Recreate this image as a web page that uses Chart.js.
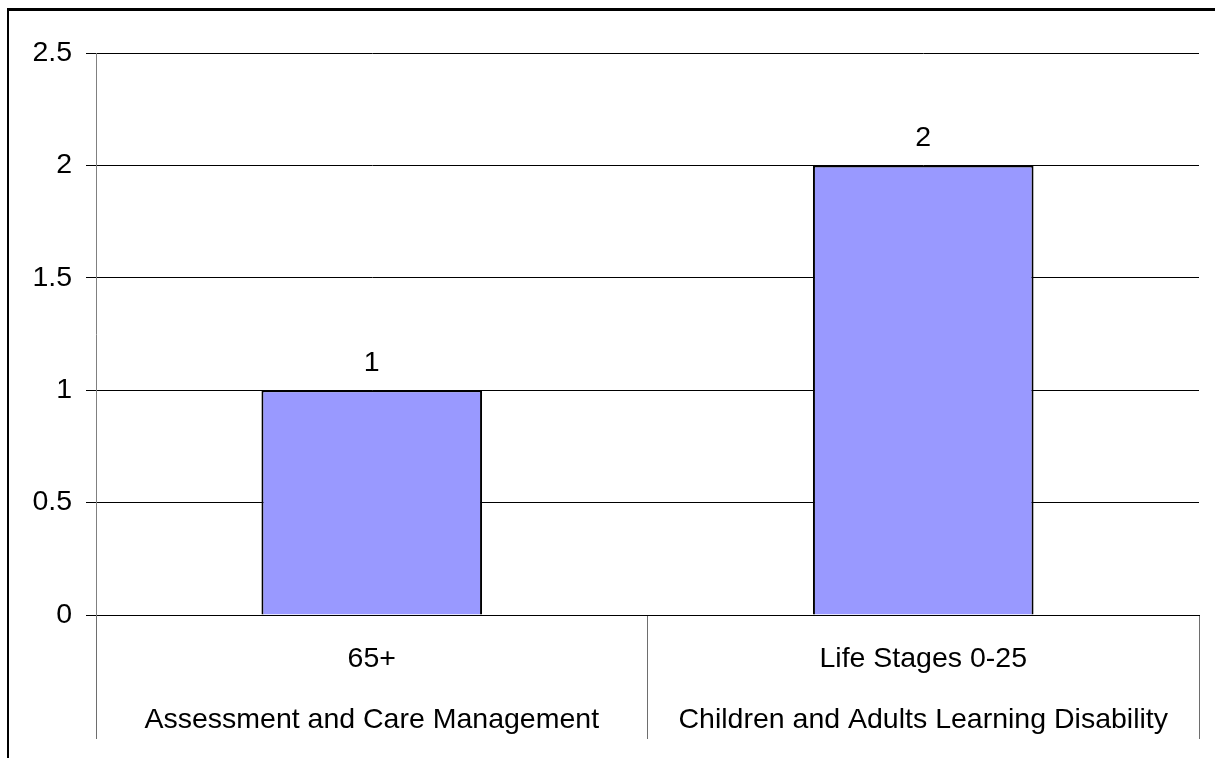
<!DOCTYPE html>
<html>
<head>
<meta charset="utf-8">
<script src="https://cdn.jsdelivr.net/npm/chart.js@4/dist/chart.umd.min.js"></script>
<style>
	html, body { margin: 0; padding: 0; background: #fff; overflow: hidden; }
	#wrap { position: relative; width: 1215px; height: 758px; }
	#frame { position: absolute; left: 7px; top: 8px; width: 1230px; height: 770px; border-left: 2px solid #000; border-top: 3px solid #000; pointer-events: none; }
</style>
</head>
<body>
<div id="wrap">
	<canvas id="chart" width="1215" height="758"></canvas>
	<div id="frame"></div>
</div>
<script>
const categories = [
	["65+", "Assessment and Care Management"],
	["Life Stages 0-25", "Children and Adults Learning Disability"],
]
const values = [1, 2]
const yTicks = { min: 0, max: 2.5, step: 0.5 }

const font = { family: "'Liberation Sans', Arial, sans-serif", size: 28.5 }

// value labels above each bar
const barLabels = {
	id: "barLabels",
	afterDatasetsDraw(chart) {
		const ctx = chart.ctx
		const meta = chart.getDatasetMeta(0)
		ctx.save()
		ctx.font = font.size + "px " + font.family
		ctx.fillStyle = "#000"
		ctx.textAlign = "center"
		ctx.textBaseline = "alphabetic"
		meta.data.forEach((bar, i) => {
			ctx.fillText(String(values[i]), bar.x, bar.y - 19)
		})
		ctx.restore()
	},
}

new Chart(document.getElementById("chart"), {
	type: "bar",
	data: {
		labels: categories,
		datasets: [{
			data: values,
			backgroundColor: "#9999FF",
			borderColor: "#000",
			borderWidth: 2,
			barPercentage: 0.4,
			categoryPercentage: 1,
		}],
	},
	options: {
		responsive: false,
		animation: false,
		layout: { padding: { top: 53, right: 16, bottom: 0, left: 0 } },
		plugins: { legend: { display: false }, tooltip: { enabled: false } },
		scales: {
			x: {
				offset: true,
				grid: { offset: true, drawOnChartArea: false, drawTicks: true, tickLength: 124, color: "#6e6e6e" },
				border: { display: true, color: "#000" },
				ticks: {
					color: "#000",
					font: { ...font, lineHeight: 2.14 },
					padding: -110.5,
					maxRotation: 0,
					autoSkip: false,
				},
				afterFit(scale) { scale.height = 143 },
			},
			y: {
				min: yTicks.min,
				max: yTicks.max,
				grid: { color: "#000", tickLength: 10 },
				border: { display: true, color: "#808080" },
				ticks: {
					stepSize: yTicks.step,
					color: "#000",
					font,
					padding: 14,
					callback: (value) => String(value),
				},
				afterFit(scale) { scale.width = 96 },
			},
		},
	},
	plugins: [barLabels],
})
</script>
</body>
</html>
